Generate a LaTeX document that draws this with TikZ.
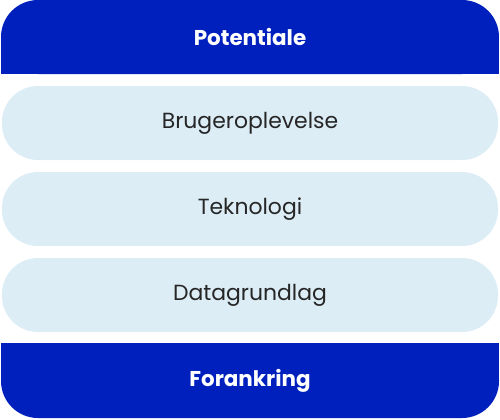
\documentclass[tikz,border=0pt]{standalone}
\usepackage{fontspec}
\setmainfont{Poppins}
\definecolor{barblue}{HTML}{0020BE}
\definecolor{pillblue}{HTML}{DCEDF6}
\definecolor{pilltext}{HTML}{262626}
\tikzset{
	bartext/.style={text=white,font=\fontsize{21.5}{25}\selectfont\bfseries},
	pill/.style={fill=pillblue,rounded corners=36bp,minimum width=496bp,minimum height=74bp,inner sep=0pt,text=pilltext,font=\fontsize{22}{26}\selectfont}
}
\begin{document}
\begin{tikzpicture}[x=1bp,y=-1bp]
	\useasboundingbox (0,0) rectangle (500,419);
	% top and bottom bars
	\fill[barblue,rounded corners=37bp] (1,0) rectangle (499,74);
	\fill[barblue] (1,37) rectangle (499,74);
	\fill[barblue,rounded corners=37bp] (1,343) rectangle (499,418);
	\fill[barblue] (1,343) rectangle (499,380);
	\node[bartext] (potentiale) at (250,37) {Potentiale};
	\node[bartext] (forankring) at (250,381) {Forankring};
	% middle layers
	\foreach \y/\name/\txt in {123/bruger/Brugeroplevelse,209/teknologi/Teknologi,295/data/Datagrundlag}{
		\node[pill] (\name) at (250,\y) {\txt};
	}
\end{tikzpicture}
\end{document}
